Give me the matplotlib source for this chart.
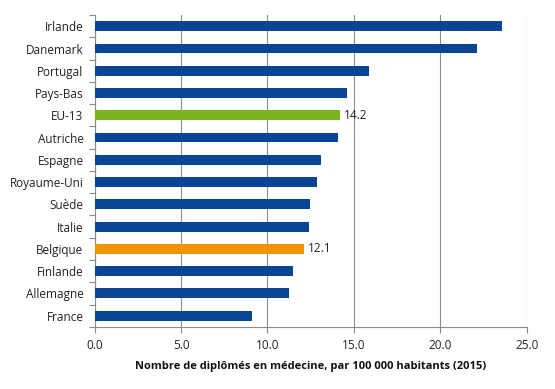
import matplotlib.pyplot as plt
from matplotlib.ticker import FormatStrFormatter, FixedLocator

# === données ===
pays = ["Irlande", "Danemark", "Portugal", "Pays-Bas", "EU-13", "Autriche",
        "Espagne", "Royaume-Uni", "Suède", "Italie", "Belgique", "Finlande",
        "Allemagne", "France"]
valeurs = [23.55, 22.1, 15.87, 14.6, 14.2, 14.1, 13.08, 12.85, 12.45, 12.4,
           12.1, 11.45, 11.25, 9.08]
etiquettes = {"EU-13": "14.2", "Belgique": "12.1"}

BLEU = "#0a4595"
VERT = "#7ab51d"
ORANGE = "#f29400"
GRIS = "#8c8c8c"

couleurs = []
for p in pays:
    if p == "EU-13":
        couleurs.append(VERT)
    elif p == "Belgique":
        couleurs.append(ORANGE)
    else:
        couleurs.append(BLEU)

plt.rcParams["font.family"] = ["Open Sans", "DejaVu Sans"]

fig = plt.figure(figsize=(5.55, 3.89), dpi=100)
ax = fig.add_axes([0.1706, 0.160, 0.7784, 0.801])

y = list(range(len(pays)))
ax.barh(y, valeurs, height=0.44, color=couleurs, zorder=3)

for i, p in enumerate(pays):
    if p in etiquettes:
        ax.text(valeurs[i] + 0.25, i, etiquettes[p], va="center", ha="left",
                fontsize=8.5, color="#222222", zorder=4)

ax.set_ylim(len(pays) - 0.5, -0.5)
ax.set_xlim(0, 25)
ax.set_xticks([0, 5, 10, 15, 20, 25])
ax.xaxis.set_major_formatter(FormatStrFormatter("%.1f"))
ax.set_yticks(y)
ax.set_yticklabels(pays)
ax.yaxis.set_minor_locator(FixedLocator([i - 0.5 for i in range(len(pays) + 1)]))

ax.grid(axis="x", color=GRIS, linewidth=0.8, zorder=0)
for s in ["top", "right"]:
    ax.spines[s].set_visible(False)
for s in ["left", "bottom"]:
    ax.spines[s].set_color(GRIS)
    ax.spines[s].set_linewidth(0.8)

ax.tick_params(axis="y", which="major", length=0, pad=8, labelsize=8.5, labelcolor="#222222")
ax.tick_params(axis="y", which="minor", length=4, color=GRIS, width=0.8)
ax.tick_params(axis="x", length=4, color=GRIS, width=0.8, labelsize=8.5,
               labelcolor="#222222", pad=5)

ax.set_xlabel("Nombre de diplômés en médecine, par 100 000 habitants (2015)",
              fontsize=8, fontweight="bold", color="#111111", labelpad=6)

fig.savefig("out.png", dpi=100)
